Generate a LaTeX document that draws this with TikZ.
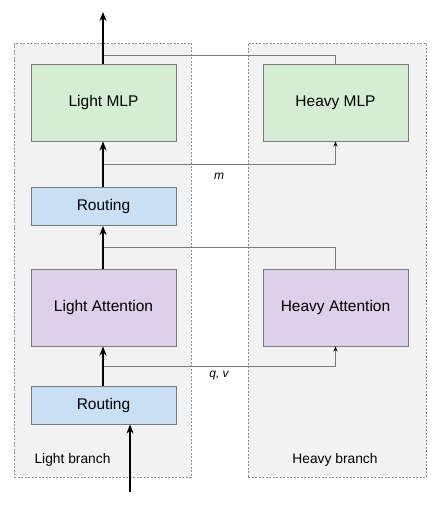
\documentclass[tikz,border=0pt]{standalone}
\usepackage{fontspec}
\setmainfont{Liberation Sans}
\usetikzlibrary{arrows.meta}
\definecolor{cgreen}{HTML}{D4EED4}
\definecolor{cblue}{HTML}{C9E0F4}
\definecolor{cpurple}{HTML}{DDD0E8}
\definecolor{cbg}{HTML}{F2F2F2}
\definecolor{cedge}{HTML}{7A7A7A}
\definecolor{cdash}{HTML}{8C8C8C}
\begin{document}
\begin{tikzpicture}[x=1pt,y=-1pt,
  branchbox/.style={draw=cdash,fill=cbg,dashed,dash pattern=on 2pt off 1.5pt,line width=0.8pt},
  block/.style={draw=cedge,line width=1pt,minimum width=145pt,inner sep=0pt,font=\fontsize{15.5}{18}\selectfont},
  mainarrow/.style={line width=2pt,-{Stealth[length=9pt,width=7pt]}},
  mainline/.style={line width=2pt},
  sideline/.style={draw=cedge,line width=1pt},
  sidearrow/.style={draw=cedge,line width=1pt,-{Stealth[length=5pt,width=4pt,color=black]}},
  lbl/.style={font=\fontsize{13.8}{16}\selectfont},
  italbl/.style={font=\itshape\fontsize{12}{14}\selectfont}]
\useasboundingbox (0,0) rectangle (446,506);
\fill[white] (0,0) rectangle (446,506);
\node[branchbox,minimum width=177pt,minimum height=434pt,inner sep=0pt] (lb) at (102.5,260) {};
\node[branchbox,minimum width=178pt,minimum height=434pt,inner sep=0pt] (hb) at (337,260) {};
\node[lbl,anchor=base west] (lbt) at (31,463) {Light branch};
\node[lbl,anchor=base] (hbt) at (335,463) {Heavy branch};

\node[block,fill=cgreen,minimum height=77pt] (lmlp) at (103.5,102.5) {Light MLP};
\node[block,fill=cgreen,minimum height=77pt] (hmlp) at (335.5,102.5) {Heavy MLP};
\node[block,fill=cblue,minimum height=38pt] (r2) at (103.5,206.5) {Routing};
\node[block,fill=cpurple,minimum height=77pt] (latt) at (103.5,307.5) {Light Attention};
\node[block,fill=cpurple,minimum height=77pt] (hatt) at (335.5,307.5) {Heavy Attention};
\node[block,fill=cblue,minimum height=38pt] (r1) at (103.5,405) {Routing};

\coordinate (out) at (103,12);
\coordinate (in) at (130,492);
\coordinate (j1) at (103,55);
\coordinate (j2) at (103,164);
\coordinate (j3) at (103,247);
\coordinate (j4) at (103,366);

% side connections
\draw[sideline] (hmlp.north) -- (hmlp.north |- j1) -- (j1);
\draw[sidearrow] (j2) -- (j2 -| hmlp.south) -- (hmlp.south);
\draw[sideline] (hatt.north) -- (hatt.north |- j3) -- (j3);
\draw[sidearrow] (j4) -- (j4 -| hatt.south) -- (hatt.south);
\node[italbl] (m) at (219,176) {m};
\node[italbl] (qv) at (219,376) {q, v};

% main path
\draw[mainarrow] (lmlp.north -| out) -- (out);
\draw[mainarrow] (r2.north -| j2) -- (lmlp.south -| j2);
\draw[mainarrow] (latt.north -| j3) -- (r2.south -| j3);
\draw[mainarrow] (r1.north -| j4) -- (latt.south -| j4);
\draw[mainarrow] (in) -- (in |- r1.south);
\end{tikzpicture}
\end{document}
